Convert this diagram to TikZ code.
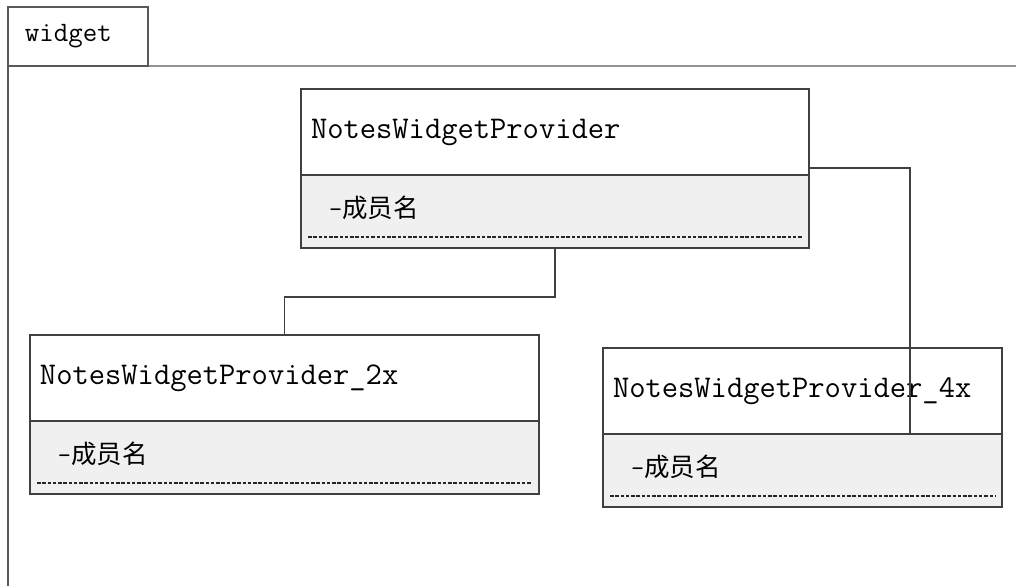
\documentclass[tikz,border=0pt]{standalone}
\usepackage{fontspec}
\newfontfamily\cjk{Noto Sans CJK SC}
\usetikzlibrary{positioning}

\tikzset{
	frame/.style={black!65, line width=0.8pt},
	classtitle/.style={draw=black!75, line width=0.8pt, fill=white, outer sep=0pt,
		minimum height=1.72cm, inner xsep=0.2cm, align=left,
		font=\ttfamily\fontsize{18}{20}\selectfont},
	classmembers/.style={draw=black!75, line width=0.8pt, fill=black!6, outer sep=0pt,
		minimum height=1.46cm, inner xsep=0.56cm, align=left, text depth=5pt,
		font=\fontsize{14.5}{17}\selectfont},
	memberline/.style={black!85, dash pattern=on 2pt off 1pt, line width=0.6pt},
	link/.style={black!75, line width=0.8pt}
}

\newcommand{\member}{{\ttfamily -}{\cjk 成员名}}

\begin{document}
\begin{tikzpicture}[x=0.02cm, y=-0.02cm]
	\useasboundingbox (0,0) rectangle (1016,586);

	%frame
	\node [draw=black!65, line width=0.8pt, outer sep=0pt, anchor=north west,
		minimum height=1.18cm, inner xsep=0.34cm, text width=2.12cm, align=left,
		font=\ttfamily\fontsize{16}{18}\selectfont] (tab) at (8,7) {widget};
	\draw [frame] (tab.south west) -- (8,586);
	\draw [frame] (tab.south west) -- (1016,66);

	%classes
	\node [classtitle, anchor=north west, text width=9.76cm] (top) at (301,89) {NotesWidgetProvider};
	\node [classmembers, text width=9.04cm, below=0pt of top] (topm) {\member};

	\node [classtitle, anchor=north west, text width=9.78cm] (two) at (30,335) {NotesWidgetProvider\_2x};
	\node [classmembers, text width=9.06cm, below=0pt of two] (twom) {\member};

	\node [classtitle, anchor=north west, text width=7.58cm] (four) at (603,348) {NotesWidgetProvider\_4x};
	\node [classmembers, text width=6.86cm, below=0pt of four] (fourm) {\member};

	\foreach \cls in {top, two, four}
		\draw [memberline] ([xshift=0.14cm, yshift=0.22cm]\cls m.south west) -- ([xshift=-0.14cm, yshift=0.22cm]\cls m.south east);

	%connectors
	\draw [link] (topm.south) -- ++(0,49) -| (two.north);
	\draw [link] ([yshift=0.14cm]top.south east) -| ([xshift=6.14cm]fourm.north west);

\end{tikzpicture}
\end{document}
